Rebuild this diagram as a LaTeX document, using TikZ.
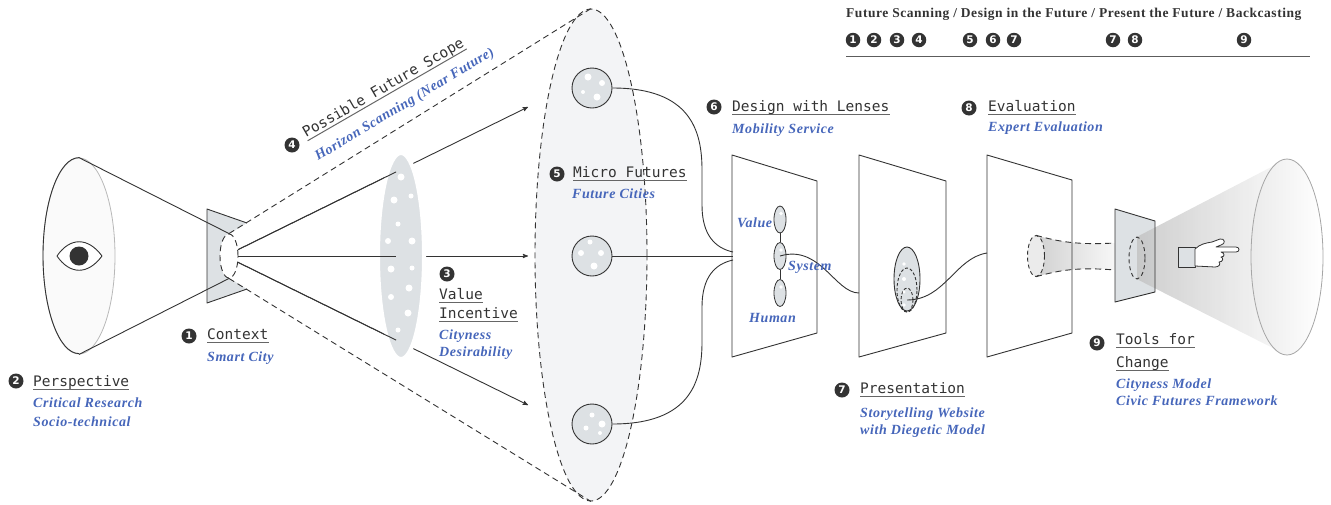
\documentclass[tikz,border=0pt]{standalone}
\usepackage{fontspec}
\usepackage{tikz}
\usetikzlibrary{arrows,shapes,calc}
\newfontfamily\lensfont{DejaVu Sans Mono}
\newfontfamily\notefont{Liberation Serif}[LetterSpace=4]
\newfontfamily\digitfont{DejaVu Sans}
\definecolor{ink}{HTML}{333333}
\definecolor{cobalt}{RGB}{70,102,186}
\definecolor{glass}{HTML}{DDE1E4}
\definecolor{haze}{HTML}{F3F4F6}

\begin{document}
\begin{tikzpicture}[x=1pt,y=-1pt,>=stealth',line join=round]
  \tikzstyle{num}=[circle,fill=ink,text=white,inner sep=0pt,minimum size=15pt,
                   font=\digitfont\bfseries\fontsize{10.5}{10.5}\selectfont]
  \tikzstyle{title}=[anchor=base west,inner sep=0pt,text depth=3pt,text=ink,
                     font=\lensfont\fontsize{14.5}{16}\selectfont,
                     append after command={\pgfextra{\let\titlenode=\tikzlastnode}
                       (\titlenode.south west) edge[draw=ink!75,line width=1pt] (\titlenode.south east)}]
  \tikzstyle{note}=[anchor=base west,inner sep=0pt,text=cobalt,
                    font=\notefont\bfseries\itshape\fontsize{14}{16}\selectfont]
  \tikzstyle{wire}=[draw=ink,line width=0.9pt]
  \tikzstyle{horizon}=[draw=ink,dash pattern=on 6pt off 4pt,line width=0.9pt]
  \tikzstyle{plane}=[wire,fill=white]
  \tikzstyle{lens}=[ellipse,draw=ink,line width=0.8pt,fill=glass,inner sep=0pt,
                    minimum width=12pt,minimum height=27pt]

  \useasboundingbox (0,0) rectangle (1331,504);

  % scope of possible futures
  \node[ellipse,horizon,fill=haze,minimum width=112pt,minimum height=492pt] (future) at (591,255) {};

  % the viewer
  \node[ellipse,draw=ink!35,line width=0.8pt,fill=black!2,minimum width=72pt,minimum height=196pt] (view) at (79,256) {};
  \draw[wire] (view.north) arc[start angle=90,end angle=270,x radius=36pt,y radius=98pt];
  \draw[wire,fill=white] (57,256) .. controls (70,237) and (88,237) .. (102,256)
                                  .. controls (88,275) and (70,275) .. (57,256) -- cycle;
  \fill[ink] (79,256) circle[radius=9.5pt];

  % context frame with its lens
  \fill[glass] (207,209) -- (247,223) -- (229,234) -- (229,278) -- (247,289) -- (207,303) -- cycle;
  \draw[wire] (247,223) -- (207,209) -- (207,303) -- (247,289);
  \node[ellipse,horizon,fill=white,minimum width=18pt,minimum height=44pt] (ctx) at (229,256) {};
  \draw[wire] (view.north) -- (ctx.north);
  \draw[wire] (view.south) -- (ctx.south);
  \draw[horizon] (ctx.north) -- (future.north);
  \draw[horizon] (ctx.south) -- (future.south);

  % rays through value incentive
  \coordinate (r1) at (528,107);
  \coordinate (r2) at (528,256);
  \coordinate (r3) at (528,405);
  \draw[wire,->] (ctx.35) -- (r1);
  \draw[wire,->] (ctx.east) -- (r2);
  \draw[wire,->] (ctx.-35) -- (r3);
  \node[ellipse,fill=glass,draw=white,line width=4pt,minimum width=46pt,minimum height=206pt] (sieve) at (401,256) {};
  \draw[wire] (ctx.35) -- ($(ctx.35)!0.545!(r1)$);
  \draw[wire] (ctx.east) -- ($(ctx.east)!0.545!(r2)$);
  \draw[wire] (ctx.-35) -- ($(ctx.-35)!0.545!(r3)$);
  \foreach \dx/\dy/\r in {0/-79/3.5,10/-60/2.5,-7/-56/3.5,-3/-32/2.5,-13/-15/3,11/-15/3.5,
                          -10/13/3.5,11/12/2.5,8/32/3.5,-10/41/3,7/57/3.5,-3/74/2.5}
    \fill[white] ($(sieve)+(\dx,\dy)$) circle[radius=\r pt];

  % micro futures
  \foreach \i/\y in {1/88,2/256,3/424}
    \node[circle,wire,fill=glass,minimum size=40pt,inner sep=0pt] (m\i) at (592,\y) {};
  \foreach \i/\dx/\dy/\r in {1/-4/-11/3.5,1/10/-5/3,1/-9/4/2,1/5/9/3.5,
                             2/-2/-14/2.5,2/-11/-3/3,2/9/-3/3,2/2/10/3.5,
                             3/0/-9/2.5,3/-6/4/2.5,3/10/0/3.5,3/8/9/2}
    \fill[white] ($(m\i)+(\dx,\dy)$) circle[radius=\r pt];

  % design, presentation and evaluation planes
  \draw[plane] (732,155) -- (817,181) -- (817,333) -- (732,357) -- cycle;
  \draw[plane] (859,155) -- (946,181) -- (946,333) -- (859,357) -- cycle;
  \fill[white] (987,155) -- (1072,180) -- (1072,333) -- (987,357) -- cycle;
  \coordinate (d1) at (733,252);
  \coordinate (d2) at (733,256);
  \coordinate (d3) at (733,260);
  \coordinate (pin) at (859,293);
  \coordinate (ein) at (987,253);

  \draw[wire] (m1.east) .. controls (690,88) and (702,130) .. (702,170) -- (702,205)
              .. controls (702,235) and (715,248) .. (d1);
  \draw[wire] (m2.east) -- (d2);
  \draw[wire] (m3.east) .. controls (690,424) and (702,382) .. (702,342) -- (702,307)
              .. controls (702,277) and (715,264) .. (d3);

  % lenses
  \node[lens] (lv) at (780,219.5) {};
  \node[lens] (ls) at (780,256) {};
  \node[lens] (lh) at (780,293) {};
  \draw[wire] (lv.south) -- (ls.north);
  \draw[wire] (ls.south) -- (lh.north);
  \foreach \n in {lv,ls,lh}
    \fill[white] ($(\n)+(1,-6)$) circle[radius=1.8pt];
  \draw[wire] (ls.center) .. controls (820,244) and (835,293) .. (pin);

  % diegetic model
  \node[ellipse,wire,fill=glass,minimum width=26pt,minimum height=64pt] (pres) at (907,279) {};
  \node[ellipse,horizon,dash pattern=on 3pt off 2pt,minimum width=20pt,minimum height=44pt] at (907,290) {};
  \node[ellipse,horizon,dash pattern=on 3pt off 2pt,minimum width=12pt,minimum height=24pt] (core) at (907,300) {};
  \foreach \dy/\r in {-15/1.8,0/2,13/1.6,26/1.8}
    \fill[white] ($(pres)+(-3,\dy)$) circle[radius=\r pt];
  \draw[wire] (core.center) .. controls (945,300) and (955,258) .. (ein);

  % funnel towards the tools
  \node[ellipse,minimum width=17pt,minimum height=41pt,inner sep=0pt] (fl) at (1036,256) {};
  \shade[left color=black!18,right color=black!3]
    (fl.north) .. controls (1060,242) and (1078,245) .. (1115,243) -- (1115,270)
    .. controls (1078,267) and (1060,270) .. (fl.south) -- cycle;
  \draw[horizon] (fl.north) .. controls (1060,242) and (1078,245) .. (1115,243);
  \draw[horizon] (fl.south) .. controls (1060,270) and (1078,267) .. (1115,270);
  \node[ellipse,horizon,dash pattern=on 4pt off 3pt,fill=black!8,minimum width=17pt,minimum height=41pt] at (fl) {};
  \draw[wire] (987,155) -- (1072,180) -- (1072,333) -- (987,357) -- cycle;

  % tools for change
  \fill[glass] (1115,209) -- (1155,221) -- (1155,292) -- (1115,302) -- cycle;
  \node[ellipse,minimum width=16pt,minimum height=42pt,inner sep=0pt] (tl) at (1137,258) {};
  \node[ellipse,minimum width=72pt,minimum height=196pt,inner sep=0pt] (screen) at (1287,257) {};
  \shade[left color=black!24,right color=black!3,opacity=0.8]
    (tl.north) -- (screen.north) -- (screen.south) -- (tl.south) -- cycle;
  \draw[wire] (1115,209) -- (1155,221) -- (1155,292) -- (1115,302) -- cycle;
  \node[ellipse,horizon,dash pattern=on 4pt off 3pt,minimum width=16pt,minimum height=42pt] at (tl) {};
  \node[ellipse,draw=black!35,line width=0.8pt,left color=black!8,right color=white,
        minimum width=72pt,minimum height=196pt] at (screen) {};

  % pointing hand
  \filldraw[fill=glass,draw=ink,line width=0.8pt] (1178,247) rectangle (1195,267);
  \filldraw[fill=white,draw=ink,line width=0.8pt]
    (1195,249) .. controls (1200,244) and (1206,243) .. (1212,242) -- (1220,239)
    .. controls (1225,238) and (1226,244) .. (1221,245) -- (1216,247) -- (1236,247)
    .. controls (1240,247) and (1240,252) .. (1236,252) -- (1221,252)
    .. controls (1225,253) and (1225,257) .. (1221,257)
    .. controls (1224,258) and (1223,262) .. (1219,262)
    .. controls (1221,264) and (1219,267) .. (1215,267) -- (1195,266) -- cycle;

  % labels
  \node[num] (n1) at (189,336) {1};
  \node[title] (context) at (207,339) {Context};
  \node[note] at (207,361) {Smart City};

  \node[num] (n2) at (16,381) {2};
  \node[title] (persp) at (33,386) {Perspective};
  \node[note] at (33,407) {Critical Research};
  \node[note] at (33,426) {Socio-technical};

  \node[num] (n3) at (447,274) {3};
  \node[title] (value) at (439,299) {Value};
  \node[title] (incentive) at (439,318) {Incentive};
  \node[note] at (439,339) {Cityness};
  \node[note] at (439,356) {Desirability};

  \node[num] (n4) at (292,145) {4};
  \node[title,rotate=30] (scope) at (306,138) {Possible Future Scope};
  \node[note,rotate=31] at (318,161) {Horizon Scanning (Near Future)};

  \node[num] (n5) at (557,174) {5};
  \node[title] (micro) at (573,177) {Micro Futures};
  \node[note] at (572,198) {Future Cities};

  \node[num] (n6) at (714,107) {6};
  \node[title] (design) at (732,111) {Design with Lenses};
  \node[note] at (732,133) {Mobility Service};
  \node[note] at (737,227) {Value};
  \node[note] at (788,270) {System};
  \node[note] at (749,322) {Human};

  \node[num] (n7) at (842,390) {7};
  \node[title] (present) at (860,393) {Presentation};
  \node[note] at (860,417) {Storytelling Website};
  \node[note] at (860,434) {with Diegetic Model};

  \node[num] (n8) at (969,108) {8};
  \node[title] (eval) at (988,111) {Evaluation};
  \node[note] at (988,131) {Expert Evaluation};

  \node[num] (n9) at (1097,343) {9};
  \node[title] (tools) at (1116,344) {Tools for};
  \node[title] (change) at (1116,367) {Change};
  \node[note] at (1116,388) {Cityness Model};
  \node[note] at (1116,405) {Civic Futures Framework};

  % stage legend
  \node[anchor=base west,inner sep=0pt,text=ink,font=\notefont\bfseries\fontsize{13.5}{15}\selectfont]
    (stages) at (846,17) {Future Scanning / Design in the Future / Present the Future / Backcasting};
  \foreach \d/\x in {1/853,2/874,3/897,4/919,5/970,6/993,7/1014,7/1113,8/1135,9/1244}
    \node[num,minimum size=14.5pt] (s\x) at (\x,40) {\d};
  \draw[draw=ink!80,line width=1pt] (846,56) -- (1310,56);
\end{tikzpicture}
\end{document}
